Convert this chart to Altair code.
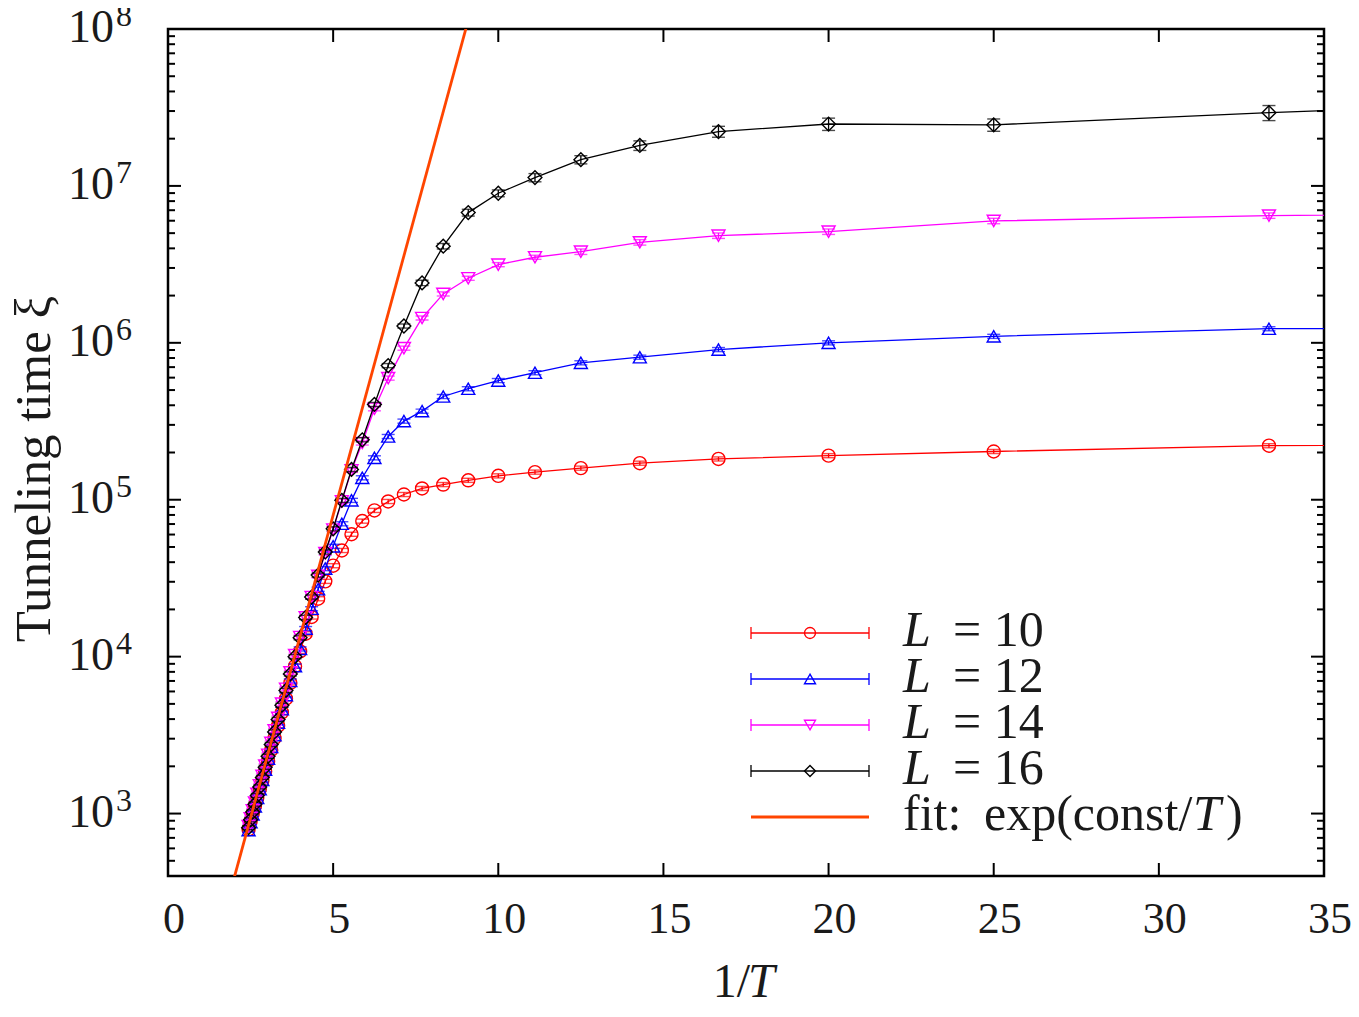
import math
import altair as alt
import pandas as pd

# ---------------- data ----------------
T_VALUES = [0.41, 0.40, 0.39, 0.38, 0.37, 0.36, 0.35, 0.34, 0.33, 0.32,
            0.31, 0.30, 0.29, 0.28, 0.27, 0.26, 0.25, 0.24, 0.23, 0.22,
            0.21, 0.20, 0.19, 0.18, 0.17, 0.16, 0.15, 0.14, 0.13, 0.12,
            0.11, 0.10, 0.09, 0.08, 0.07, 0.06, 0.05, 0.04, 0.03, 0.02]

XI_L10 = [794, 891, 1000, 1122, 1259, 1429, 1622, 1862, 2163, 2541,
          3020, 3631, 4416, 5400, 6800, 8700, 10800, 14000, 17900, 23400,
          30200, 38000, 47500, 60300, 73100, 85500, 97500, 108000, 118000, 125000,
          133000, 142000, 150000, 159000, 171000, 182000, 191000, 203000, 221000, 232000]
XI_L12 = [785, 881, 989, 1109, 1259, 1430, 1640, 1905, 2240, 2660,
          3160, 3800, 4620, 5690, 7000, 8710, 11200, 15100, 20200, 26900,
          36400, 50500, 70300, 99100, 138000, 185000, 253000, 317000, 367000, 455000,
          510000, 575000, 645000, 746000, 810000, 906000, 1.0e6, 1.1e6, 1.23e6, 1.27e6]
XI_L14 = [832, 933, 1047, 1175, 1334, 1514, 1738, 2018, 2371, 2818,
          3388, 4074, 5012, 6237, 7943, 10230, 13340, 17780, 23990, 32730,
          45710, 64570, 97700, 154000, 230000, 380000, 596000, 925000, 1.44e6, 2.05e6,
          2.58e6, 3.15e6, 3.51e6, 3.81e6, 4.37e6, 4.82e6, 5.11e6, 5.98e6, 6.47e6, 7.0e6]
XI_L16 = [813, 912, 1023, 1148, 1303, 1479, 1698, 1972, 2317, 2754,
          3311, 3981, 4898, 6095, 7762, 10000, 13180, 17780, 23990, 33110,
          46450, 65300, 99100, 156000, 241000, 405000, 716000, 1.28e6, 2.41e6, 4.13e6,
          6.76e6, 8.98e6, 1.13e7, 1.47e7, 1.81e7, 2.22e7, 2.48e7, 2.45e7, 2.93e7, 3.9e7]

# relative errors in percent
ERR_L10 = [3, 3, 3, 3, 3, 3, 3, 3, 3, 3, 3, 3, 3, 3, 3, 3, 3, 3, 3, 3,
           3, 3, 3, 3, 3, 3, 3, 3, 3, 3, 3, 3, 3, 3, 3, 3, 3, 3, 3, 3]
ERR_L12 = [3, 3, 3, 3, 3, 3, 3, 3, 3, 3, 3, 3, 3, 3, 3, 3, 3, 3, 3, 3,
           3, 3, 3, 3, 3, 3, 3, 3, 3, 3, 3, 3, 3, 3, 3, 3, 3, 3, 3, 3]
ERR_L14 = [3, 3, 3, 3, 3, 3, 3, 3, 3, 3, 3, 3, 3, 3, 3, 3, 3, 3, 3, 3,
           3, 3, 3, 3, 3, 3, 3, 3, 3, 3, 3, 3, 3, 4, 4, 4, 4, 4, 4, 4]
ERR_L16 = [3, 3, 3, 3, 3, 3, 3, 3, 3, 3, 3, 3, 3, 3, 3, 3, 3, 3, 3, 3,
           3, 3, 3, 3, 3, 3, 3, 3, 4, 4, 5, 5, 6, 6, 7, 8, 9, 9, 11, 11]

SERIES_LABELS = ["10", "12", "14", "16"]
SERIES_COLORS = ["#ff0000", "#0000ff", "#ff00ff", "#000000"]
SERIES_SHAPES = ["circle", "triangle-up", "triangle-down", "diamond"]
SERIES_SIZES = [170, 170, 170, 190]
SERIES_VALUES = [XI_L10, XI_L12, XI_L14, XI_L16]
SERIES_ERRORS = [ERR_L10, ERR_L12, ERR_L14, ERR_L16]

# fit: xi = A * exp(const / T)
FIT_A = 11.1
FIT_CONST = 1.776
FIT_X = [1.5, 10.0]

X_TICKS = [0, 5, 10, 15, 20, 25, 30, 35]
Y_DECADES = [1e3, 1e4, 1e5, 1e6, 1e7, 1e8]
MINOR_DECADES = [1e2, 1e3, 1e4, 1e5, 1e6, 1e7]
MINOR_MULT = [2, 3, 4, 5, 6, 7, 8, 9]

# ---------------- layout ----------------
W, H = 1156, 847
FONT = "Liberation Serif"
TXT = "#1a1a1a"
FIT_COLOR = "#ff4500"
XS = alt.Scale(domain=[0, 35], nice=False, zero=False)
YS = alt.Scale(type="log", domain=[400, 1e8], nice=False)

layers = []

# frame ticks (inward, mirrored) and tick labels
xt = pd.DataFrame({"v": X_TICKS})
layers.append(alt.Chart(xt).mark_rule(color="black", strokeWidth=2).encode(
    x=alt.X("v:Q", scale=XS, axis=None), y=alt.value(H), y2=alt.value(H - 13)))
layers.append(alt.Chart(xt).mark_rule(color="black", strokeWidth=2).encode(
    x=alt.X("v:Q", scale=XS, axis=None), y=alt.value(0), y2=alt.value(13)))
layers.append(alt.Chart(xt).mark_text(font=FONT, fontSize=44, baseline="middle",
                                      align="center", dx=6, color=TXT).encode(
    x=alt.X("v:Q", scale=XS, axis=None), y=alt.value(H + 44), text=alt.Text("v:Q")))

yt = pd.DataFrame({"v": Y_DECADES,
                   "e": [str(int(round(math.log10(v)))) for v in Y_DECADES]})
layers.append(alt.Chart(yt).mark_rule(color="black", strokeWidth=2).encode(
    y=alt.Y("v:Q", scale=YS, axis=None), x=alt.value(0), x2=alt.value(13)))
layers.append(alt.Chart(yt).mark_rule(color="black", strokeWidth=2).encode(
    y=alt.Y("v:Q", scale=YS, axis=None), x=alt.value(W), x2=alt.value(W - 13)))
layers.append(alt.Chart(yt).mark_text(font=FONT, fontSize=46, baseline="middle",
                                      align="right", dy=-1, color=TXT).encode(
    y=alt.Y("v:Q", scale=YS, axis=None), x=alt.value(-54), text=alt.value("10")))
layers.append(alt.Chart(yt).mark_text(font=FONT, fontSize=32, baseline="middle",
                                      align="left", dy=-13, color=TXT).encode(
    y=alt.Y("v:Q", scale=YS, axis=None), x=alt.value(-52), text="e:N"))

minor = [m * d for d in MINOR_DECADES for m in MINOR_MULT if 400 <= m * d <= 1e8]
mt = pd.DataFrame({"v": minor})
layers.append(alt.Chart(mt).mark_rule(color="black", strokeWidth=2).encode(
    y=alt.Y("v:Q", scale=YS, axis=None), x=alt.value(0), x2=alt.value(7)))
layers.append(alt.Chart(mt).mark_rule(color="black", strokeWidth=2).encode(
    y=alt.Y("v:Q", scale=YS, axis=None), x=alt.value(W), x2=alt.value(W - 7)))

# data series
for lab, col, shp, sz, vals, errs in zip(SERIES_LABELS, SERIES_COLORS, SERIES_SHAPES,
                                         SERIES_SIZES, SERIES_VALUES, SERIES_ERRORS):
    df = pd.DataFrame({"T": T_VALUES, "xi": vals, "err": errs})
    df["x"] = 1.0 / df["T"]
    df["lo"] = df["xi"] * (1 - df["err"] / 100.0)
    df["hi"] = df["xi"] * (1 + df["err"] / 100.0)
    base = alt.Chart(df)
    enc_x = alt.X("x:Q", scale=XS, axis=None)
    layers.append(base.mark_line(color=col, strokeWidth=1.3, clip=True).encode(
        x=enc_x, y=alt.Y("xi:Q", scale=YS, axis=None), order="x:Q"))
    layers.append(base.mark_rule(color=col, strokeWidth=1.3, clip=True).encode(
        x=enc_x, y=alt.Y("lo:Q", scale=YS, axis=None), y2="hi:Q"))
    for f in ["lo", "hi"]:
        layers.append(base.mark_tick(color=col, orient="horizontal", size=13,
                                     thickness=1.4, clip=True).encode(
            x=enc_x, y=alt.Y(f + ":Q", scale=YS, axis=None)))
    layers.append(base.mark_point(shape=shp, filled=False, color=col, size=sz,
                                  strokeWidth=1.4, opacity=1, clip=True).encode(
        x=enc_x, y=alt.Y("xi:Q", scale=YS, axis=None)))

# fit line
fit = pd.DataFrame({"x": FIT_X})
fit["y"] = FIT_A * (fit["x"] * FIT_CONST).apply(math.exp)
layers.append(alt.Chart(fit).mark_line(color=FIT_COLOR, strokeWidth=2.8, clip=True).encode(
    x=alt.X("x:Q", scale=XS, axis=None), y=alt.Y("y:Q", scale=YS, axis=None)))

# legend (manual)
one = pd.DataFrame({"k": [0]})
ROW0, ROWSTEP = 604, 46
LX1, LX2, LXM, TX = 583, 701, 642, 735
LFS = 50
for i, (lab, col, shp) in enumerate(zip(SERIES_LABELS, SERIES_COLORS, SERIES_SHAPES)):
    py = ROW0 + i * ROWSTEP
    c = alt.Chart(one)
    layers.append(c.mark_rule(color=col, strokeWidth=1.3).encode(
        x=alt.value(LX1), x2=alt.value(LX2), y=alt.value(py)))
    for xx in (LX1, LX2):
        layers.append(c.mark_rule(color=col, strokeWidth=1.3).encode(
            x=alt.value(xx), y=alt.value(py - 6), y2=alt.value(py + 6)))
    layers.append(c.mark_point(shape=shp, filled=False, color=col, size=120,
                               strokeWidth=1.4, opacity=1).encode(
        x=alt.value(LXM), y=alt.value(py)))
    layers.append(c.mark_text(font=FONT, fontSize=LFS, fontStyle="italic",
                              align="left", baseline="alphabetic", color=TXT).encode(
        x=alt.value(TX), y=alt.value(py + 13), text=alt.value("L")))
    layers.append(c.mark_text(font=FONT, fontSize=LFS, align="left",
                              baseline="alphabetic", color=TXT).encode(
        x=alt.value(TX + 50), y=alt.value(py + 13), text=alt.value("= " + lab)))

pyf = ROW0 + 4 * ROWSTEP
c = alt.Chart(one)
layers.append(c.mark_rule(color=FIT_COLOR, strokeWidth=2.8).encode(
    x=alt.value(LX1), x2=alt.value(LX2), y=alt.value(pyf)))
layers.append(c.mark_text(font=FONT, fontSize=LFS, align="left", baseline="alphabetic",
                          color=TXT).encode(
    x=alt.value(TX), y=alt.value(pyf + 13), text=alt.value("fit:")))
layers.append(c.mark_text(font=FONT, fontSize=LFS, align="left", baseline="alphabetic",
                          color=TXT).encode(
    x=alt.value(816), y=alt.value(pyf + 13), text=alt.value("exp(const/")))
layers.append(c.mark_text(font=FONT, fontSize=LFS, fontStyle="italic", align="left",
                          baseline="alphabetic", color=TXT).encode(
    x=alt.value(1025), y=alt.value(pyf + 13), text=alt.value("T")))
layers.append(c.mark_text(font=FONT, fontSize=LFS, align="left", baseline="alphabetic",
                          color=TXT).encode(
    x=alt.value(1058), y=alt.value(pyf + 13), text=alt.value(")")))

# axis titles
layers.append(c.mark_text(font=FONT, fontSize=48, align="right", baseline="alphabetic",
                          color=TXT).encode(
    x=alt.value(582), y=alt.value(H + 121), text=alt.value("1/")))
layers.append(c.mark_text(font=FONT, fontSize=48, fontStyle="italic", align="left",
                          baseline="alphabetic", color=TXT).encode(
    x=alt.value(580), y=alt.value(H + 121), text=alt.value("T")))
layers.append(c.mark_text(font=FONT, fontSize=51, angle=270, align="center",
                          baseline="alphabetic", color=TXT).encode(
    x=alt.value(-118), y=alt.value(440), text=alt.value("Tunneling time ξ")))

chart = alt.layer(*layers).properties(
    width=W, height=H,
    autosize=alt.AutoSizeParams(type="none"),
    padding={"left": 160, "top": 21, "right": 27, "bottom": 133},
).configure_view(stroke="black", strokeWidth=2.5)

chart.save("out.html", embed_options={"renderer": "svg", "actions": False})
